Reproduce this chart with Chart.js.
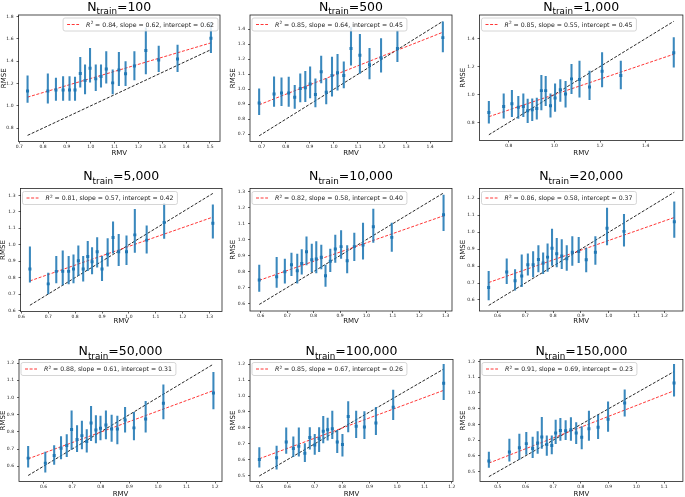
<!DOCTYPE html>
<html>
<head>
<meta charset="utf-8">
<script src="https://cdn.jsdelivr.net/npm/chart.js@4.4.0/dist/chart.umd.min.js"></script>
<style>
  html, body { margin: 0; padding: 0; background: #fff; }
  body { width: 685px; height: 497px; position: relative; overflow: hidden; }
  canvas { position: absolute; left: 0; top: 0; }
</style>
</head>
<body>
<script>
// ---- data ----
const trainSizes = ['100', '500', '1,000', '5,000', '10,000', '20,000', '50,000', '100,000', '150,000'];
const r2Values = ['0.84', '0.85', '0.85', '0.81', '0.82', '0.86', '0.88', '0.85', '0.91'];
const slopeValues = ['0.62', '0.64', '0.55', '0.57', '0.58', '0.58', '0.61', '0.67', '0.69'];
const interceptValues = ['0.62', '0.45', '0.45', '0.42', '0.40', '0.37', '0.31', '0.26', '0.23'];

// N = 100
const rmv100 = [0.735, 0.820, 0.854, 0.884, 0.911, 0.934, 0.956, 0.976, 0.997, 1.021, 1.043, 1.065, 1.092, 1.118, 1.146, 1.183, 1.231, 1.285, 1.364, 1.504];
const rmse100 = [1.134, 1.134, 1.143, 1.143, 1.143, 1.143, 1.290, 1.227, 1.337, 1.242, 1.263, 1.331, 1.206, 1.322, 1.287, 1.358, 1.496, 1.412, 1.421, 1.606];
const low100 = [1.030, 1.024, 1.048, 1.048, 1.048, 1.048, 1.167, 1.107, 1.212, 1.137, 1.167, 1.203, 1.107, 1.182, 1.182, 1.233, 1.287, 1.307, 1.307, 1.478];
const high100 = [1.269, 1.287, 1.248, 1.263, 1.263, 1.257, 1.436, 1.367, 1.516, 1.367, 1.367, 1.487, 1.322, 1.481, 1.397, 1.487, 1.700, 1.537, 1.546, 1.750];
const fit100 = [1.078, 1.565];

// N = 500
const rmv500 = [0.689, 0.751, 0.782, 0.812, 0.837, 0.860, 0.881, 0.901, 0.923, 0.947, 0.968, 0.992, 1.015, 1.041, 1.071, 1.108, 1.148, 1.196, 1.264, 1.453];
const rmse500 = [0.908, 0.968, 0.975, 0.975, 0.946, 1.004, 1.009, 1.035, 0.964, 1.116, 0.979, 1.091, 1.109, 1.091, 1.272, 1.226, 1.163, 1.210, 1.272, 1.344];
const low500 = [0.830, 0.885, 0.890, 0.885, 0.872, 0.915, 0.917, 0.941, 0.881, 1.042, 0.901, 0.953, 0.993, 1.009, 1.161, 1.105, 1.069, 1.114, 1.183, 1.248];
const high500 = [1.002, 1.082, 1.076, 1.080, 1.026, 1.102, 1.120, 1.149, 1.069, 1.221, 1.071, 1.214, 1.232, 1.183, 1.411, 1.366, 1.272, 1.337, 1.389, 1.449];
const fit500 = [0.896, 1.380];

// N = 1,000
const rmv1k = [0.713, 0.778, 0.814, 0.842, 0.864, 0.883, 0.903, 0.923, 0.943, 0.962, 0.983, 1.003, 1.026, 1.049, 1.075, 1.110, 1.154, 1.209, 1.291, 1.523];
const rmse1k = [0.872, 0.915, 0.934, 0.910, 0.915, 0.884, 0.891, 0.901, 1.028, 1.028, 0.920, 0.975, 1.035, 1.004, 1.112, 1.107, 1.054, 1.167, 1.136, 1.299];
const low1k = [0.795, 0.831, 0.843, 0.829, 0.843, 0.800, 0.814, 0.824, 0.891, 0.920, 0.838, 0.879, 0.951, 0.910, 1.006, 0.982, 0.963, 1.054, 1.040, 1.196];
const high1k = [0.951, 1.006, 1.030, 0.987, 1.006, 0.968, 0.970, 0.975, 1.138, 1.131, 1.006, 1.076, 1.107, 1.095, 1.215, 1.239, 1.167, 1.299, 1.239, 1.407];
const fit1k = [0.842, 1.288];

// N = 5,000
const rmv5k = [0.632, 0.700, 0.730, 0.754, 0.776, 0.794, 0.812, 0.830, 0.847, 0.863, 0.882, 0.900, 0.921, 0.941, 0.962, 0.991, 1.022, 1.066, 1.131, 1.312];
const rmse5k = [0.852, 0.762, 0.838, 0.838, 0.838, 0.852, 0.903, 0.852, 0.929, 0.897, 0.957, 0.852, 0.943, 1.044, 0.957, 0.957, 1.060, 1.028, 1.135, 1.131];
const low5k = [0.772, 0.701, 0.768, 0.756, 0.762, 0.768, 0.812, 0.778, 0.842, 0.822, 0.863, 0.782, 0.869, 0.949, 0.873, 0.879, 0.953, 0.949, 1.038, 1.040];
const high5k = [0.988, 0.828, 0.929, 0.963, 0.929, 0.939, 0.994, 0.929, 1.020, 0.983, 1.044, 0.929, 1.038, 1.139, 1.064, 1.054, 1.215, 1.115, 1.252, 1.242];
const fit5k = [0.780, 1.168];

// N = 10,000
const rmv10k = [0.594, 0.660, 0.691, 0.716, 0.738, 0.755, 0.773, 0.793, 0.810, 0.829, 0.845, 0.863, 0.882, 0.904, 0.927, 0.954, 0.987, 1.026, 1.096, 1.292];
const rmse10k = [0.747, 0.768, 0.799, 0.843, 0.805, 0.851, 0.924, 0.874, 0.878, 0.889, 0.774, 0.864, 0.941, 0.956, 0.868, 0.956, 0.966, 1.081, 1.014, 1.156];
const low10k = [0.676, 0.701, 0.728, 0.774, 0.728, 0.784, 0.841, 0.799, 0.791, 0.816, 0.707, 0.799, 0.857, 0.882, 0.791, 0.868, 0.878, 0.983, 0.926, 1.056];
const high10k = [0.841, 0.889, 0.878, 0.916, 0.910, 0.937, 1.018, 0.972, 0.987, 0.966, 0.841, 0.941, 1.029, 1.056, 0.962, 1.041, 1.104, 1.191, 1.104, 1.279];
const fit10k = [0.745, 1.149];

// N = 20,000
const rmv20k = [0.568, 0.633, 0.663, 0.687, 0.709, 0.728, 0.747, 0.764, 0.780, 0.796, 0.813, 0.831, 0.849, 0.869, 0.892, 0.919, 0.952, 0.994, 1.055, 1.236];
const rmse20k = [0.674, 0.765, 0.713, 0.742, 0.808, 0.808, 0.839, 0.818, 0.853, 0.906, 0.873, 0.859, 0.843, 0.882, 0.886, 0.837, 0.882, 1.023, 1.005, 1.062];
const low20k = [0.600, 0.697, 0.658, 0.678, 0.746, 0.736, 0.765, 0.756, 0.769, 0.804, 0.795, 0.785, 0.775, 0.804, 0.820, 0.765, 0.810, 0.925, 0.917, 0.970];
const high20k = [0.769, 0.843, 0.779, 0.867, 0.873, 0.886, 0.921, 0.878, 0.931, 1.019, 0.964, 0.956, 0.921, 0.974, 0.970, 0.906, 0.974, 1.142, 1.106, 1.179];
const fit20k = [0.703, 1.087];

// N = 50,000
const rmv50k = [0.546, 0.606, 0.637, 0.661, 0.681, 0.698, 0.717, 0.734, 0.751, 0.766, 0.783, 0.799, 0.818, 0.838, 0.858, 0.885, 0.916, 0.957, 1.019, 1.194];
const rmse50k = [0.647, 0.618, 0.662, 0.705, 0.720, 0.813, 0.755, 0.778, 0.744, 0.852, 0.811, 0.821, 0.840, 0.817, 0.817, 0.869, 0.823, 0.875, 0.966, 1.026];
const low50k = [0.595, 0.566, 0.610, 0.643, 0.656, 0.697, 0.685, 0.701, 0.682, 0.749, 0.736, 0.753, 0.759, 0.744, 0.730, 0.798, 0.753, 0.798, 0.875, 0.933];
const high50k = [0.716, 0.682, 0.720, 0.773, 0.784, 0.923, 0.836, 0.862, 0.813, 0.949, 0.894, 0.891, 0.923, 0.898, 0.891, 0.943, 0.914, 0.978, 1.074, 1.146];
const fit50k = [0.643, 1.040];

// N = 100,000
const rmv100k = [0.498, 0.561, 0.596, 0.622, 0.642, 0.664, 0.682, 0.700, 0.716, 0.731, 0.747, 0.764, 0.782, 0.801, 0.822, 0.851, 0.881, 0.923, 0.986, 1.170];
const rmse100k = [0.602, 0.613, 0.712, 0.671, 0.685, 0.640, 0.739, 0.692, 0.733, 0.779, 0.789, 0.795, 0.712, 0.696, 0.872, 0.810, 0.806, 0.831, 0.930, 1.080];
const low100k = [0.553, 0.540, 0.640, 0.619, 0.623, 0.588, 0.667, 0.634, 0.650, 0.706, 0.723, 0.733, 0.644, 0.623, 0.775, 0.739, 0.733, 0.758, 0.851, 0.978];
const high100k = [0.677, 0.685, 0.800, 0.744, 0.800, 0.702, 0.802, 0.760, 0.802, 0.872, 0.862, 0.905, 0.785, 0.760, 0.966, 0.905, 0.903, 0.930, 1.038, 1.200];
const fit100k = [0.606, 1.036];

// N = 150,000
const rmv150k = [0.468, 0.542, 0.578, 0.603, 0.626, 0.644, 0.659, 0.677, 0.695, 0.709, 0.726, 0.745, 0.764, 0.783, 0.803, 0.829, 0.862, 0.898, 0.958, 1.136];
const rmse150k = [0.567, 0.624, 0.651, 0.678, 0.647, 0.682, 0.720, 0.672, 0.666, 0.745, 0.762, 0.760, 0.766, 0.745, 0.718, 0.772, 0.782, 0.833, 0.937, 1.064];
const low150k = [0.526, 0.567, 0.578, 0.609, 0.588, 0.615, 0.647, 0.603, 0.613, 0.678, 0.699, 0.703, 0.699, 0.678, 0.645, 0.699, 0.709, 0.755, 0.853, 0.979];
const high150k = [0.624, 0.707, 0.739, 0.749, 0.720, 0.755, 0.845, 0.728, 0.728, 0.828, 0.839, 0.824, 0.843, 0.812, 0.787, 0.885, 0.860, 0.943, 1.020, 1.183];
const fit150k = [0.554, 1.014];

// axis ranges and tick steps
const xRanges = [[0.697, 1.542], [0.651, 1.491], [0.672, 1.563], [0.597, 1.346], [0.559, 1.324], [0.535, 1.267], [0.514, 1.224], [0.464, 1.204], [0.436, 1.168]];
const yRanges = [[0.680, 1.815], [0.651, 1.495], [0.672, 1.568], [0.594, 1.342], [0.553, 1.320], [0.535, 1.258], [0.511, 1.221], [0.463, 1.230], [0.437, 1.213]];
const xSteps = [0.1, 0.1, 0.2, 0.1, 0.1, 0.1, 0.1, 0.1, 0.1];
const ySteps = [0.2, 0.1, 0.2, 0.1, 0.1, 0.1, 0.1, 0.1, 0.1];

const panels = [
  { x: rmv100, y: rmse100, lo: low100, hi: high100, fit: fit100 },
  { x: rmv500, y: rmse500, lo: low500, hi: high500, fit: fit500 },
  { x: rmv1k, y: rmse1k, lo: low1k, hi: high1k, fit: fit1k },
  { x: rmv5k, y: rmse5k, lo: low5k, hi: high5k, fit: fit5k },
  { x: rmv10k, y: rmse10k, lo: low10k, hi: high10k, fit: fit10k },
  { x: rmv20k, y: rmse20k, lo: low20k, hi: high20k, fit: fit20k },
  { x: rmv50k, y: rmse50k, lo: low50k, hi: high50k, fit: fit50k },
  { x: rmv100k, y: rmse100k, lo: low100k, hi: high100k, fit: fit100k },
  { x: rmv150k, y: rmse150k, lo: low150k, hi: high150k, fit: fit150k }
];

// ---- layout (page pixels) ----
const W = 685, H = 510;
const FONT = '"DejaVu Sans", sans-serif';
const BLUE = '#1f77b4';
const colStart = [0, 228, 456];
// plot box: left, right, top, bottom
const areas = [
  [18.5, 220, 15, 141.5], [250, 452, 15, 141.5], [479.5, 683, 15, 140.5],
  [20.5, 222, 188.5, 311.5], [250, 452, 188.5, 311], [479.5, 683, 188.5, 311],
  [19, 222, 359.5, 481.5], [250, 453, 359.5, 481.5], [480, 683, 359.5, 481.5]
];
const titleBase = [10.5, 180, 355];
const xLabelY = [153.5, 321, 494];
const yLabelX = [4.5, 233, 463, 3.5, 233, 462.7, 3.5, 233, 462.7];

function zeroPad(s) {
  s.paddingLeft = 0; s.paddingRight = 0; s.paddingTop = 0; s.paddingBottom = 0;
}

function makePanel(i) {
  const p = panels[i];
  const [L, R, T, B] = areas[i];
  const col = i % 3, row = Math.floor(i / 3);
  const axisLeft = colStart[col];
  const axisBottom = B + 20;
  const last = p.x.length - 1;
  const labelSize = 7, labelLH = 1.2;

  const canvas = document.createElement('canvas');
  canvas.width = W;
  canvas.height = H;
  document.body.appendChild(canvas);

  // frame, title and legend
  const decor = {
    id: 'decor' + i,
    afterDatasetsDraw(chart) {
      const ctx = chart.ctx, a = chart.chartArea;
      ctx.save();
      ctx.strokeStyle = '#222';
      ctx.lineWidth = 0.8;
      ctx.strokeRect(a.left, a.top, a.right - a.left, a.bottom - a.top);
      ctx.restore();
    },
    afterDraw(chart) {
      const ctx = chart.ctx, a = chart.chartArea;
      ctx.save();
      // title N_train=...
      const big = 12.5, small = 8.75;
      ctx.font = big + 'px ' + FONT;
      const wN = ctx.measureText('N').width;
      const eq = '=' + trainSizes[i];
      const wEq = ctx.measureText(eq).width;
      ctx.font = small + 'px ' + FONT;
      const wSub = ctx.measureText('train').width;
      let tx = (a.left + a.right) / 2 - (wN + wSub + wEq) / 2;
      const tb = titleBase[row];
      ctx.fillStyle = '#000';
      ctx.textAlign = 'left';
      ctx.textBaseline = 'alphabetic';
      ctx.font = big + 'px ' + FONT;
      ctx.fillText('N', tx, tb);
      ctx.font = small + 'px ' + FONT;
      ctx.fillText('train', tx + wN, tb + 3.8);
      ctx.font = big + 'px ' + FONT;
      ctx.fillText(eq, tx + wN + wSub, tb);

      // legend
      const fs = 6.2;
      const rest = ' = ' + r2Values[i] + ', slope = ' + slopeValues[i] + ', intercept = ' + interceptValues[i];
      ctx.font = 'italic ' + fs + 'px ' + FONT;
      const wR = ctx.measureText('R').width;
      ctx.font = (fs * 0.7) + 'px ' + FONT;
      const w2 = ctx.measureText('2').width;
      ctx.font = fs + 'px ' + FONT;
      const wRest = ctx.measureText(rest).width;
      const boxW = 23 + wR + w2 + wRest + 4;
      const boxH = 13;
      const bx = i === 0 ? a.right - 2 - boxW : a.left + 2;
      const by = a.top + 3;
      ctx.beginPath();
      ctx.roundRect(bx, by, boxW, boxH, 2);
      ctx.fillStyle = 'rgba(255,255,255,0.85)';
      ctx.fill();
      ctx.strokeStyle = '#cccccc';
      ctx.lineWidth = 0.8;
      ctx.stroke();
      ctx.beginPath();
      ctx.setLineDash([3, 1.6]);
      ctx.strokeStyle = 'rgba(255,20,20,0.85)';
      ctx.lineWidth = 1;
      ctx.moveTo(bx + 4, by + boxH / 2);
      ctx.lineTo(bx + 16, by + boxH / 2);
      ctx.stroke();
      ctx.setLineDash([]);
      const base = by + 8.8;
      let lx = bx + 23;
      ctx.fillStyle = '#222';
      ctx.font = 'italic ' + fs + 'px ' + FONT;
      ctx.fillText('R', lx, base);
      lx += wR;
      ctx.font = (fs * 0.7) + 'px ' + FONT;
      ctx.fillText('2', lx + 0.3, base - 2.6);
      lx += w2;
      ctx.font = fs + 'px ' + FONT;
      ctx.fillText(rest, lx, base);
      ctx.restore();
    }
  };

  const tickFont = { family: FONT, size: 4.5, lineHeight: 1.2 };
  const labelFont = { family: FONT, size: labelSize, lineHeight: labelLH };
  const half = labelSize * labelLH / 2;

  new Chart(canvas, {
    type: 'scatter',
    data: {
      datasets: [
        {
          type: 'scatter',
          data: p.x.map((v, k) => ({ x: v, y: p.y[k] })),
          backgroundColor: BLUE,
          borderWidth: 0,
          pointStyle: 'rect',
          pointRadius: 2.1,
          pointHoverRadius: 2.1
        },
        {
          type: 'bar',
          data: p.x.map((v, k) => ({ x: v, y: [p.lo[k], p.hi[k]] })),
          backgroundColor: 'rgba(31,119,180,0.88)',
          borderWidth: 0,
          barThickness: 1.4
        },
        {
          type: 'line',
          data: [{ x: p.x[0], y: p.fit[0] }, { x: p.x[last], y: p.fit[1] }],
          borderColor: 'rgba(255,20,20,0.85)',
          borderWidth: 1,
          borderDash: [3, 1.6],
          pointRadius: 0,
          fill: false
        },
        {
          type: 'line',
          data: [{ x: p.x[0], y: p.x[0] }, { x: p.x[last], y: p.x[last] }],
          borderColor: '#111',
          borderWidth: 0.9,
          borderDash: [3, 1.6],
          pointRadius: 0,
          fill: false
        }
      ]
    },
    options: {
      responsive: false,
      animation: false,
      events: [],
      layout: { padding: { left: axisLeft, right: W - R, top: T, bottom: H - axisBottom } },
      plugins: {
        legend: { display: false },
        tooltip: { enabled: false },
        title: { display: false }
      },
      scales: {
        x: {
          type: 'linear',
          min: xRanges[i][0],
          max: xRanges[i][1],
          offset: false,
          border: { display: false },
          grid: { display: true, offset: false, drawOnChartArea: false, drawTicks: true, tickLength: 2, color: '#222', lineWidth: 0.7 },
          ticks: {
            stepSize: xSteps[i], includeBounds: false, autoSkip: false, maxRotation: 0,
            padding: 0.5, color: '#222', font: tickFont,
            callback: v => v.toFixed(1)
          },
          title: {
            display: true, text: 'RMV', color: '#111', font: labelFont,
            padding: { top: 0, bottom: axisBottom - xLabelY[row] - half }
          },
          afterFit: s => { s.height = axisBottom - B; zeroPad(s); }
        },
        y: {
          type: 'linear',
          min: yRanges[i][0],
          max: yRanges[i][1],
          beginAtZero: false,
          border: { display: false },
          grid: { display: true, drawOnChartArea: false, drawTicks: true, tickLength: 2, color: '#222', lineWidth: 0.7 },
          ticks: {
            stepSize: ySteps[i], includeBounds: false, autoSkip: false,
            padding: 3, color: '#222', font: tickFont,
            callback: v => v.toFixed(1)
          },
          title: {
            display: true, text: 'RMSE', color: '#111', font: labelFont,
            padding: { top: yLabelX[i] - axisLeft - half, bottom: 0 }
          },
          afterFit: s => { s.width = L - axisLeft; zeroPad(s); }
        }
      }
    },
    plugins: [decor]
  });
}

for (let i = 0; i < panels.length; i++) makePanel(i);
</script>
</body>
</html>
